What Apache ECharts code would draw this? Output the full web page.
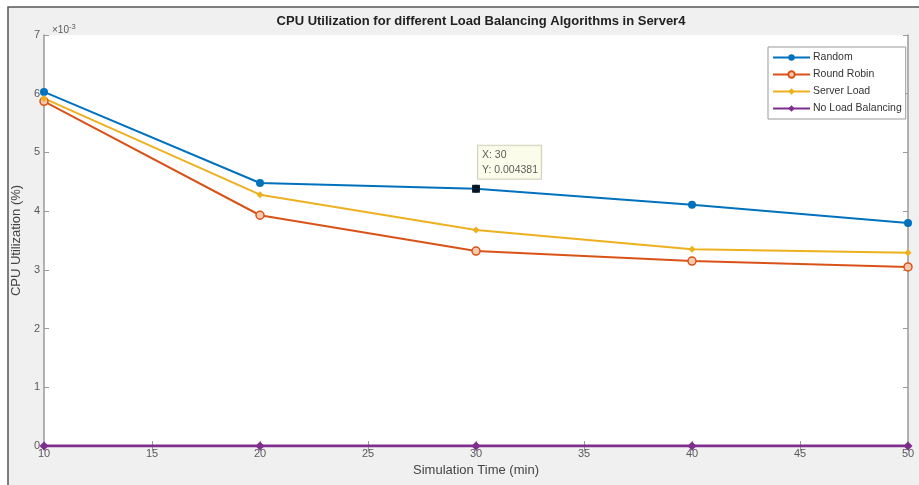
<!DOCTYPE html>
<html>
<head>
<meta charset="utf-8">
<style>
  html, body { margin: 0; padding: 0; background: #ffffff; }
  #chart { width: 919px; height: 485px; }
</style>
<script src="https://cdn.jsdelivr.net/npm/echarts@6/dist/echarts.min.js"></script>
</head>
<body>
<div id="chart"></div>
<script>
// Simulation time (min)
const times = [10, 20, 30, 40, 50];
// CPU utilization, in units of 1e-3
const randomVals     = [6.03, 4.48, 4.381, 4.11, 3.80];
const roundRobinVals = [5.87, 3.93, 3.32, 3.15, 3.05];
const serverLoadVals = [5.92, 4.28, 3.68, 3.35, 3.29];
const noLoadVals     = [0, 0, 0, 0, 0];
const yTicks = [0, 1, 2, 3, 4, 5, 6, 7];
const xTicks = [10, 15, 20, 25, 30, 35, 40, 45, 50];
// Data tip shown on the Random curve
const tipPoint = { x: 30, y: 4.381, text: 'Y: 0.004381' };

const seriesNames = ['Random', 'Round Robin', 'Server Load', 'No Load Balancing'];
const colors = ['#0072BD', '#D95319', '#EDB120', '#7E2F8E'];

const pairs = vals => times.map((t, i) => [t, vals[i]]);

const chart = echarts.init(document.getElementById('chart'), null, { renderer: 'canvas' });

const axisGrey = '#9a9a9a';
const labelGrey = '#5a5a5a';
const font = 'Liberation Sans, Arial, sans-serif';

const lineSeries = (name, vals, color, symbol, size, hollow) => ({
  name,
  type: 'line',
  data: pairs(vals),
  symbol,
  symbolSize: size,
  showAllSymbol: true,
  lineStyle: { color, width: 2 },
  itemStyle: { color: hollow ? '#f7c9b0' : color, borderColor: color, borderWidth: hollow ? 1.5 : 0 },
  emphasis: { disabled: true },
  z: 3
});

chart.setOption({
  animation: false,
  backgroundColor: '#ffffff',
  graphic: [
    { type: 'rect', shape: { x: 8, y: 7, width: 920, height: 490 },
      style: { fill: '#f0f0f0', stroke: '#555', lineWidth: 1.5 }, z: -10 },
    { type: 'text', left: 52, top: 23,
      style: { text: '{a|×10}{b|-3}', font: '10px ' + font,
        rich: { a: { fontSize: 10, fill: labelGrey, fontFamily: font },
                b: { fontSize: 7.5, fill: labelGrey, fontFamily: font, verticalAlign: 'top', padding: [0, 0, 6, 0] } } } }
  ],
  title: {
    text: 'CPU Utilization for different Load Balancing Algorithms in Server4',
    left: 476, top: 10, textAlign: 'center',
    textStyle: { fontSize: 13, fontWeight: 'bold', color: '#222', fontFamily: font }
  },
  legend: {
    data: seriesNames,
    orient: 'vertical',
    left: 768, top: 47,
    padding: [5, 4, 5, 4],
    itemGap: 6,
    itemWidth: 37, itemHeight: 8,
    backgroundColor: '#ffffff',
    borderColor: '#999',
    borderWidth: 1,
    textStyle: { fontSize: 10.5, color: '#333', fontFamily: font, padding: [0, 0, 0, -2] }
  },
  grid: { left: 44, right: 11, top: 35, bottom: 39, show: true, backgroundColor: '#ffffff', borderWidth: 0 },
  xAxis: [{
    type: 'value', min: 10, max: 50, interval: 5,
    name: 'Simulation Time (min)', nameLocation: 'middle', nameGap: 18,
    nameTextStyle: { fontSize: 13, color: '#444', fontFamily: font },
    axisLine: { lineStyle: { color: axisGrey, width: 1 } },
    axisTick: { inside: true, length: 5, lineStyle: { color: axisGrey } },
    axisLabel: { fontSize: 11, color: labelGrey, fontFamily: font, margin: 2,
      formatter: v => xTicks.includes(v) ? String(v) : '' },
    splitLine: { show: false }
  }, {
    type: 'value', min: 10, max: 50, interval: 5, position: 'top',
    axisLine: { lineStyle: { color: axisGrey, width: 1 } },
    axisTick: { inside: true, length: 5, lineStyle: { color: axisGrey } },
    axisLabel: { show: false }, splitLine: { show: false }
  }],
  yAxis: [{
    type: 'value', min: 0, max: 7, interval: 1,
    name: 'CPU Utilization (%)', nameLocation: 'middle', nameGap: 15,
    nameTextStyle: { fontSize: 13, color: '#444', fontFamily: font },
    axisLine: { show: true, lineStyle: { color: axisGrey, width: 1.5 } },
    axisTick: { show: true, inside: true, length: 5, lineStyle: { color: axisGrey } },
    axisLabel: { fontSize: 11, color: labelGrey, fontFamily: font, margin: 4,
      formatter: v => yTicks.includes(v) ? String(v) : '' },
    splitLine: { show: false }
  }, {
    type: 'value', min: 0, max: 7, interval: 1, position: 'right',
    axisLine: { show: true, lineStyle: { color: axisGrey, width: 1.5 } },
    axisTick: { show: true, inside: true, length: 5, lineStyle: { color: axisGrey } },
    axisLabel: { show: false }, splitLine: { show: false }
  }],
  series: [
    lineSeries('Random', randomVals, colors[0], 'circle', 8, false),
    lineSeries('Round Robin', roundRobinVals, colors[1], 'circle', 8, true),
    lineSeries('Server Load', serverLoadVals, colors[2], 'diamond', 7, false),
    Object.assign(lineSeries('No Load Balancing', noLoadVals, colors[3], 'diamond', 9, false),
      { lineStyle: { color: colors[3], width: 3 }, z: 4 }),
    {
      name: 'tip',
      type: 'scatter',
      data: [[tipPoint.x, tipPoint.y]],
      symbol: 'rect',
      symbolSize: 8,
      itemStyle: { color: '#000' },
      z: 10,
      label: {
        show: true,
        position: [6, -39],
        formatter: 'X: ' + tipPoint.x + '\n' + tipPoint.text,
        fontSize: 10.5,
        lineHeight: 15,
        color: '#333',
        fontFamily: font,
        backgroundColor: '#fbfbe6',
        borderColor: '#c8c8b0',
        borderWidth: 1,
        padding: [2, 3, 1, 4]
      },
      emphasis: { disabled: true },
      tooltip: { show: false }
    }
  ]
});
</script>
</body>
</html>
